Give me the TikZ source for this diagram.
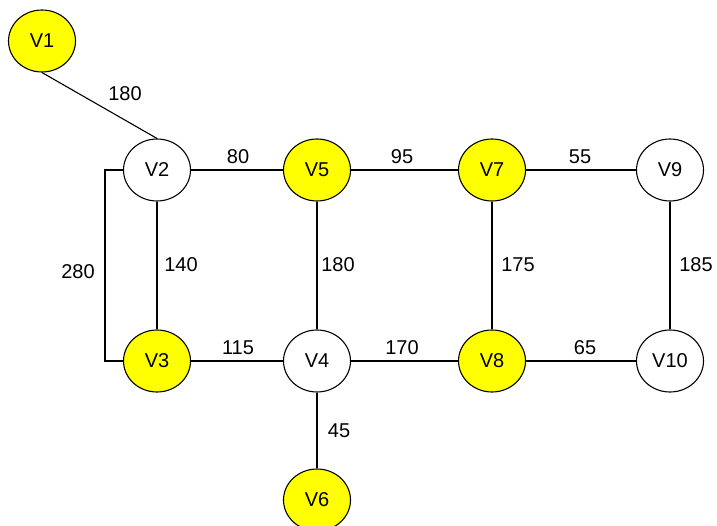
\documentclass[tikz,border=0pt]{standalone}
\usepackage{fontspec}
\setmainfont{Liberation Sans}
\usetikzlibrary{shapes.geometric}
\definecolor{vyellow}{RGB}{255,255,0}
\tikzset{
  vert/.style={ellipse, draw=black, line width=1.1pt, minimum width=67pt, minimum height=62pt, inner sep=0pt, font=\fontsize{20}{24}\selectfont},
  yv/.style={vert, fill=vyellow},
  wv/.style={vert, fill=white},
  edge/.style={draw=black, line width=1.1pt},
  wlab/.style={font=\fontsize{20}{24}\selectfont, inner sep=0pt}
}
\begin{document}
\begin{tikzpicture}[x=1pt,y=-1pt]
\useasboundingbox (0,0) rectangle (717,526);
\node[yv] (v1) at (42,41) {V1};
\node[wv] (v2) at (157,170) {V2};
\node[yv] (v5) at (317,170) {V5};
\node[yv] (v7) at (492,170) {V7};
\node[wv] (v9) at (670,170) {V9};
\node[yv] (v3) at (157,361) {V3};
\node[wv] (v4) at (317,361) {V4};
\node[yv] (v8) at (492,361) {V8};
\node[wv] (v10) at (670,361) {V10};
\node[yv] (v6) at (317,500) {V6};
\coordinate (c1) at (105,170);
\coordinate (c2) at (105,361);
\draw[edge] (v1.south) -- (v2.north);
\draw[edge] (v2.west) -- (c1) -- (c2) -- (v3.west);
\draw[edge] (v2) -- (v5);
\draw[edge] (v5) -- (v7);
\draw[edge] (v7) -- (v9);
\draw[edge] (v2) -- (v3);
\draw[edge] (v5) -- (v4);
\draw[edge] (v7) -- (v8);
\draw[edge] (v9) -- (v10);
\draw[edge] (v3) -- (v4);
\draw[edge] (v4) -- (v8);
\draw[edge] (v8) -- (v10);
\draw[edge] (v4) -- (v6);
\node[wlab] (l12) at (125,94) {180};
\node[wlab] (l25) at (238,157) {80};
\node[wlab] (l57) at (402,157) {95};
\node[wlab] (l79) at (580,157) {55};
\node[wlab] (l23) at (181,265) {140};
\node[wlab] (l54) at (338,265) {180};
\node[wlab] (l78) at (518,265) {175};
\node[wlab] (l910) at (696,265) {185};
\node[wlab] (l34) at (238,348) {115};
\node[wlab] (l48) at (402,348) {170};
\node[wlab] (l810) at (585,348) {65};
\node[wlab] (l46) at (339,431) {45};
\node[wlab] (l23b) at (78,272) {280};
\end{tikzpicture}
\end{document}
